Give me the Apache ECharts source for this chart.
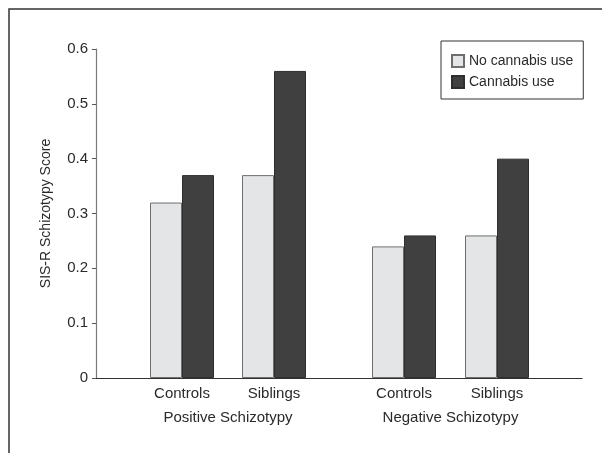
<!DOCTYPE html>
<html>
<head>
<meta charset="utf-8">
<style>
  html, body { margin: 0; padding: 0; background: #fff; }
  #chart { width: 602px; height: 453px; }
</style>
<script src="https://cdn.jsdelivr.net/npm/echarts@6/dist/echarts.min.js"></script>
</head>
<body>
<div id="chart"></div>
<script>
// ---- data ----
const categories = ['Controls', 'Siblings', 'Controls', 'Siblings'];
const groups = ['Positive Schizotypy', 'Negative Schizotypy'];
const seriesNames = ['No cannabis use', 'Cannabis use'];
const noCannabis = [0.32, 0.37, 0.24, 0.26];
const cannabis = [0.37, 0.56, 0.26, 0.40];
const yTicks = [0, 0.1, 0.2, 0.3, 0.4, 0.5, 0.6];

// ---- layout (positions along a hidden numeric x scale) ----
const xMin = 0, xMax = 486;
const catPos = [86, 178, 308, 401];
const groupPos = [(catPos[0] + catPos[1]) / 2, (catPos[2] + catPos[3]) / 2];

const FONT = "'Liberation Sans', Arial, Helvetica, sans-serif";
const TXT = '#2a2a2a';

const chart = echarts.init(document.getElementById('chart'), null, { renderer: 'canvas' });

const option = {
  backgroundColor: '#ffffff',
  animation: false,
  textStyle: { fontFamily: FONT },
  graphic: [{
    type: 'rect',
    shape: { x: 9, y: 9, width: 700, height: 700 },
    style: { fill: 'none', stroke: '#333333', lineWidth: 1.5 },
    silent: true, z: -1
  }],
  legend: {
    orient: 'vertical',
    left: 441, top: 41,
    padding: [13, 10, 10, 10],
    itemWidth: 12, itemHeight: 12, itemGap: 7,
    borderColor: '#333', borderWidth: 1,
    icon: 'rect',
    textStyle: { fontFamily: FONT, fontSize: 14, color: TXT },
    data: seriesNames
  },
  grid: { left: 96, right: 20, top: 49, bottom: 75, containLabel: false },
  xAxis: [{
    type: 'value', min: xMin, max: xMax,
    splitLine: { show: false },
    axisLine: { show: true, onZero: false, lineStyle: { color: '#333', width: 1.2 } },
    axisTick: { show: false },
    axisLabel: {
      customValues: catPos,
      margin: 8,
      fontFamily: FONT, fontSize: 15, color: TXT,
      formatter: v => categories[catPos.indexOf(v)] || ''
    }
  }, {
    type: 'value', min: xMin, max: xMax, position: 'bottom',
    splitLine: { show: false },
    axisLine: { show: false },
    axisTick: { show: false },
    axisLabel: {
      customValues: groupPos,
      margin: 32,
      fontFamily: FONT, fontSize: 15, color: TXT,
      formatter: v => groups[groupPos.indexOf(v)] || ''
    }
  }],
  yAxis: {
    type: 'value', min: 0, max: 0.6, interval: 0.1,
    name: 'SIS-R Schizotypy Score',
    nameLocation: 'middle', nameGap: 43,
    nameTextStyle: { fontFamily: FONT, fontSize: 14, color: TXT },
    splitLine: { show: false },
    axisLine: { show: true, lineStyle: { color: '#7a7a7a', width: 1.2 } },
    axisTick: { show: true, length: 4, lineStyle: { color: '#555' } },
    axisLabel: {
      margin: 8, fontFamily: FONT, fontSize: 15, color: TXT,
      formatter: v => (v === 0 ? '0' : String(Math.round(v * 10) / 10))
    }
  },
  series: [{
    name: seriesNames[0], type: 'bar', xAxisIndex: 0,
    barWidth: 32, barGap: '0%',
    itemStyle: { color: '#e4e5e6', borderColor: '#6e6e6e', borderWidth: 1 },
    data: noCannabis.map((v, i) => [catPos[i], v])
  }, {
    name: seriesNames[1], type: 'bar', xAxisIndex: 0,
    barWidth: 32, barGap: '0%',
    itemStyle: { color: '#404040', borderColor: '#2e2e2e', borderWidth: 1 },
    data: cannabis.map((v, i) => [catPos[i], v])
  }]
};

chart.setOption(option);
</script>
</body>
</html>
